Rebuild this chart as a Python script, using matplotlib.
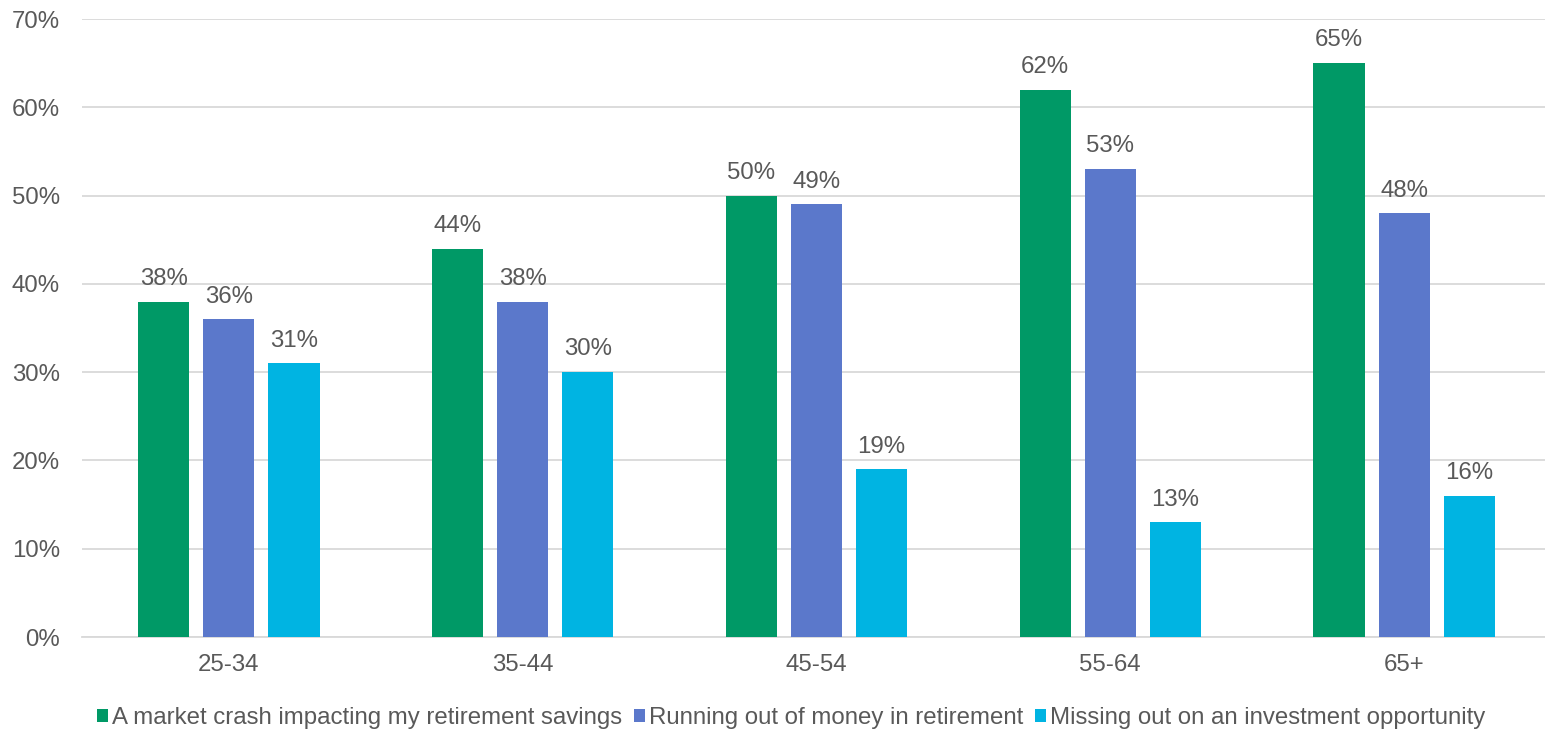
import matplotlib
matplotlib.use("Agg")
import matplotlib.pyplot as plt
import numpy as np
from matplotlib.ticker import FuncFormatter, MultipleLocator

plt.rcParams['font.family'] = ['Liberation Sans', 'DejaVu Sans']

age_groups = ["25-34", "35-44", "45-54", "55-64", "65+"]
series_names = [
    "A market crash impacting my retirement savings",
    "Running out of money in retirement",
    "Missing out on an investment opportunity",
]
market_crash = [38, 44, 50, 62, 65]
running_out = [36, 38, 49, 53, 48]
missing_out = [31, 30, 19, 13, 16]

colors = ["#009966", "#5B78CB", "#00B4E2"]
text_color = "#595959"
fs = 17.3

W, H = 1545, 731
fig = plt.figure(figsize=(W / 100, H / 100), dpi=100)
# plot area runs slightly past the right edge of the canvas
ax = fig.add_axes([82 / W, 1 - 637 / H, 1469 / W, (637 - 19) / H])

x = np.arange(len(age_groups))
bar_w = 0.174
step = 0.2215
handles = []
for i, (vals, name, col) in enumerate(zip([market_crash, running_out, missing_out], series_names, colors)):
    pos = x + (i - 1) * step
    bars = ax.bar(pos, vals, width=bar_w, color=col, label=name, zorder=3)
    handles.append(bars)
    for p, v in zip(pos, vals):
        ax.annotate(f"{v}%", xy=(p, v), xytext=(0, 12), textcoords="offset points",
                    ha="center", va="baseline", fontsize=fs, color=text_color)

ax.set_xlim(-0.5, len(age_groups) - 0.5)
ax.set_ylim(0, 70)
ax.yaxis.set_major_locator(MultipleLocator(10))
ax.yaxis.set_major_formatter(FuncFormatter(lambda v, _: f"{int(v)}%"))
ax.grid(axis="y", color="#D9D9D9", linewidth=1.3, zorder=0)
ax.set_xticks(x)
ax.set_xticklabels(age_groups)
ax.tick_params(axis="both", length=0, labelsize=fs, labelcolor=text_color)
ax.tick_params(axis="x", pad=12)
ax.tick_params(axis="y", pad=16)
for s in ["top", "right", "left"]:
    ax.spines[s].set_visible(False)
ax.spines["bottom"].set_color("#D9D9D9")
ax.spines["bottom"].set_linewidth(1.3)

leg = fig.legend(handles=handles, labels=series_names, loc="center", bbox_to_anchor=(791 / W, 1 - 718 / H),
                 ncol=3, frameon=False, fontsize=fs, handlelength=0.45, handleheight=0.45,
                 handletextpad=0.17, columnspacing=0.5, borderpad=0, borderaxespad=0)
for t in leg.get_texts():
    t.set_color(text_color)

fig.savefig("out.png", dpi=100)
